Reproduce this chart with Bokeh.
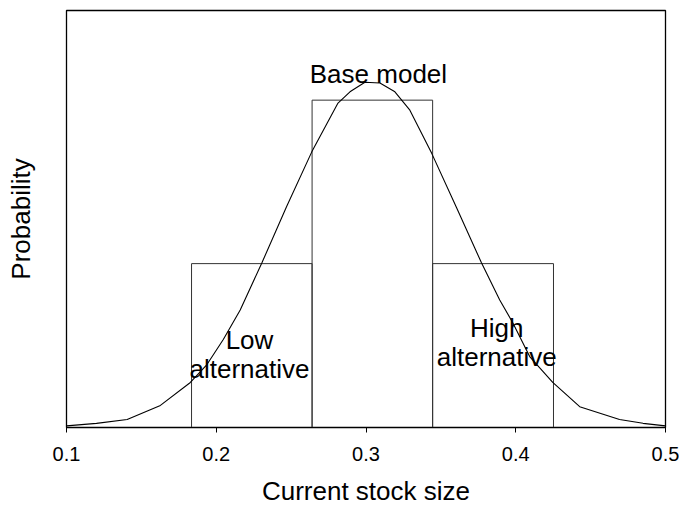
from bokeh.plotting import figure
from bokeh.models import Range1d, FixedTicker
from bokeh.core.properties import value
from bokeh.embed import file_html
from bokeh.resources import INLINE

# ---- data ----
categories = ["Low alternative", "Base model", "High alternative"]
bar_edges = [0.1835, 0.2640, 0.3445, 0.4252]
bar_heights = [0.393, 0.785, 0.393]

curve_x = [0.100, 0.120, 0.1405, 0.1627, 0.1827, 0.1938, 0.2047, 0.2160, 0.2305,
           0.2470, 0.2638, 0.2813, 0.2893, 0.2993, 0.3093, 0.3193, 0.3293, 0.3438,
           0.3605, 0.3771, 0.3893, 0.3980, 0.4093, 0.4247, 0.4427, 0.4693, 0.4850, 0.5000]
curve_y = [0.004, 0.010, 0.019, 0.053, 0.108, 0.151, 0.211, 0.282, 0.395,
           0.530, 0.661, 0.778, 0.805, 0.828, 0.826, 0.805, 0.761, 0.658,
           0.527, 0.395, 0.306, 0.251, 0.170, 0.108, 0.050, 0.019, 0.010, 0.004]

x_ticks = [0.1, 0.2, 0.3, 0.4, 0.5]
x_tick_labels = ["0.1", "0.2", "0.3", "0.4", "0.5"]

FONT = "Liberation Sans"

p = figure(width=679, height=508, x_range=Range1d(0.1, 0.5), y_range=Range1d(0, 1),
           output_backend="svg", toolbar_location=None,
           min_border_left=66, min_border_right=14, min_border_top=10, min_border_bottom=80)
p.grid.visible = False
p.background_fill_color = "white"
p.border_fill_color = "white"
p.outline_line_color = "black"
p.outline_line_width = 1.3

# x axis
xa = p.xaxis[0]
xa.ticker = FixedTicker(ticks=x_ticks)
xa.major_label_overrides = {t: l for t, l in zip(x_ticks, x_tick_labels)}
xa.minor_tick_line_color = None
xa.major_tick_in = 0
xa.major_tick_out = 5
xa.major_tick_line_color = "black"
xa.axis_line_color = "black"
xa.major_label_text_font = FONT
xa.major_label_text_font_size = "20px"
xa.major_label_text_color = "black"
xa.major_label_standoff = 14
xa.axis_label = "Current stock size"
xa.axis_label_text_font = FONT
xa.axis_label_text_font_size = "26px"
xa.axis_label_text_font_style = "normal"
xa.axis_label_text_color = "black"
xa.axis_label_standoff = 12

# y axis
ya = p.yaxis[0]
ya.ticker = FixedTicker(ticks=[])
ya.minor_tick_line_color = None
ya.major_tick_line_color = None
ya.axis_line_color = "black"
ya.major_label_text_font_size = "0px"
ya.axis_label = "Probability"
ya.axis_label_text_font = FONT
ya.axis_label_text_font_size = "26px"
ya.axis_label_text_font_style = "normal"
ya.axis_label_text_color = "black"
ya.axis_label_standoff = 31

# bars
p.quad(left=bar_edges[:-1], right=bar_edges[1:], bottom=[0] * len(bar_heights), top=bar_heights,
       fill_color=None, line_color="#333333", line_width=1)

# curve
p.line(curve_x, curve_y, line_color="black", line_width=1.1)

# labels
lab_x = [0.3083, 0.2222, 0.2222, 0.3873, 0.3873]
lab_y = [0.8486, 0.2105, 0.141, 0.2385, 0.170]
lab_t = ["Base model", "Low", "alternative", "High", "alternative"]
p.text(x=lab_x, y=lab_y, text=lab_t, text_font=value(FONT), text_font_size="26px",
       text_align="center", text_baseline="alphabetic", text_color="black")

open("out.html", "w").write(file_html(p, INLINE))
